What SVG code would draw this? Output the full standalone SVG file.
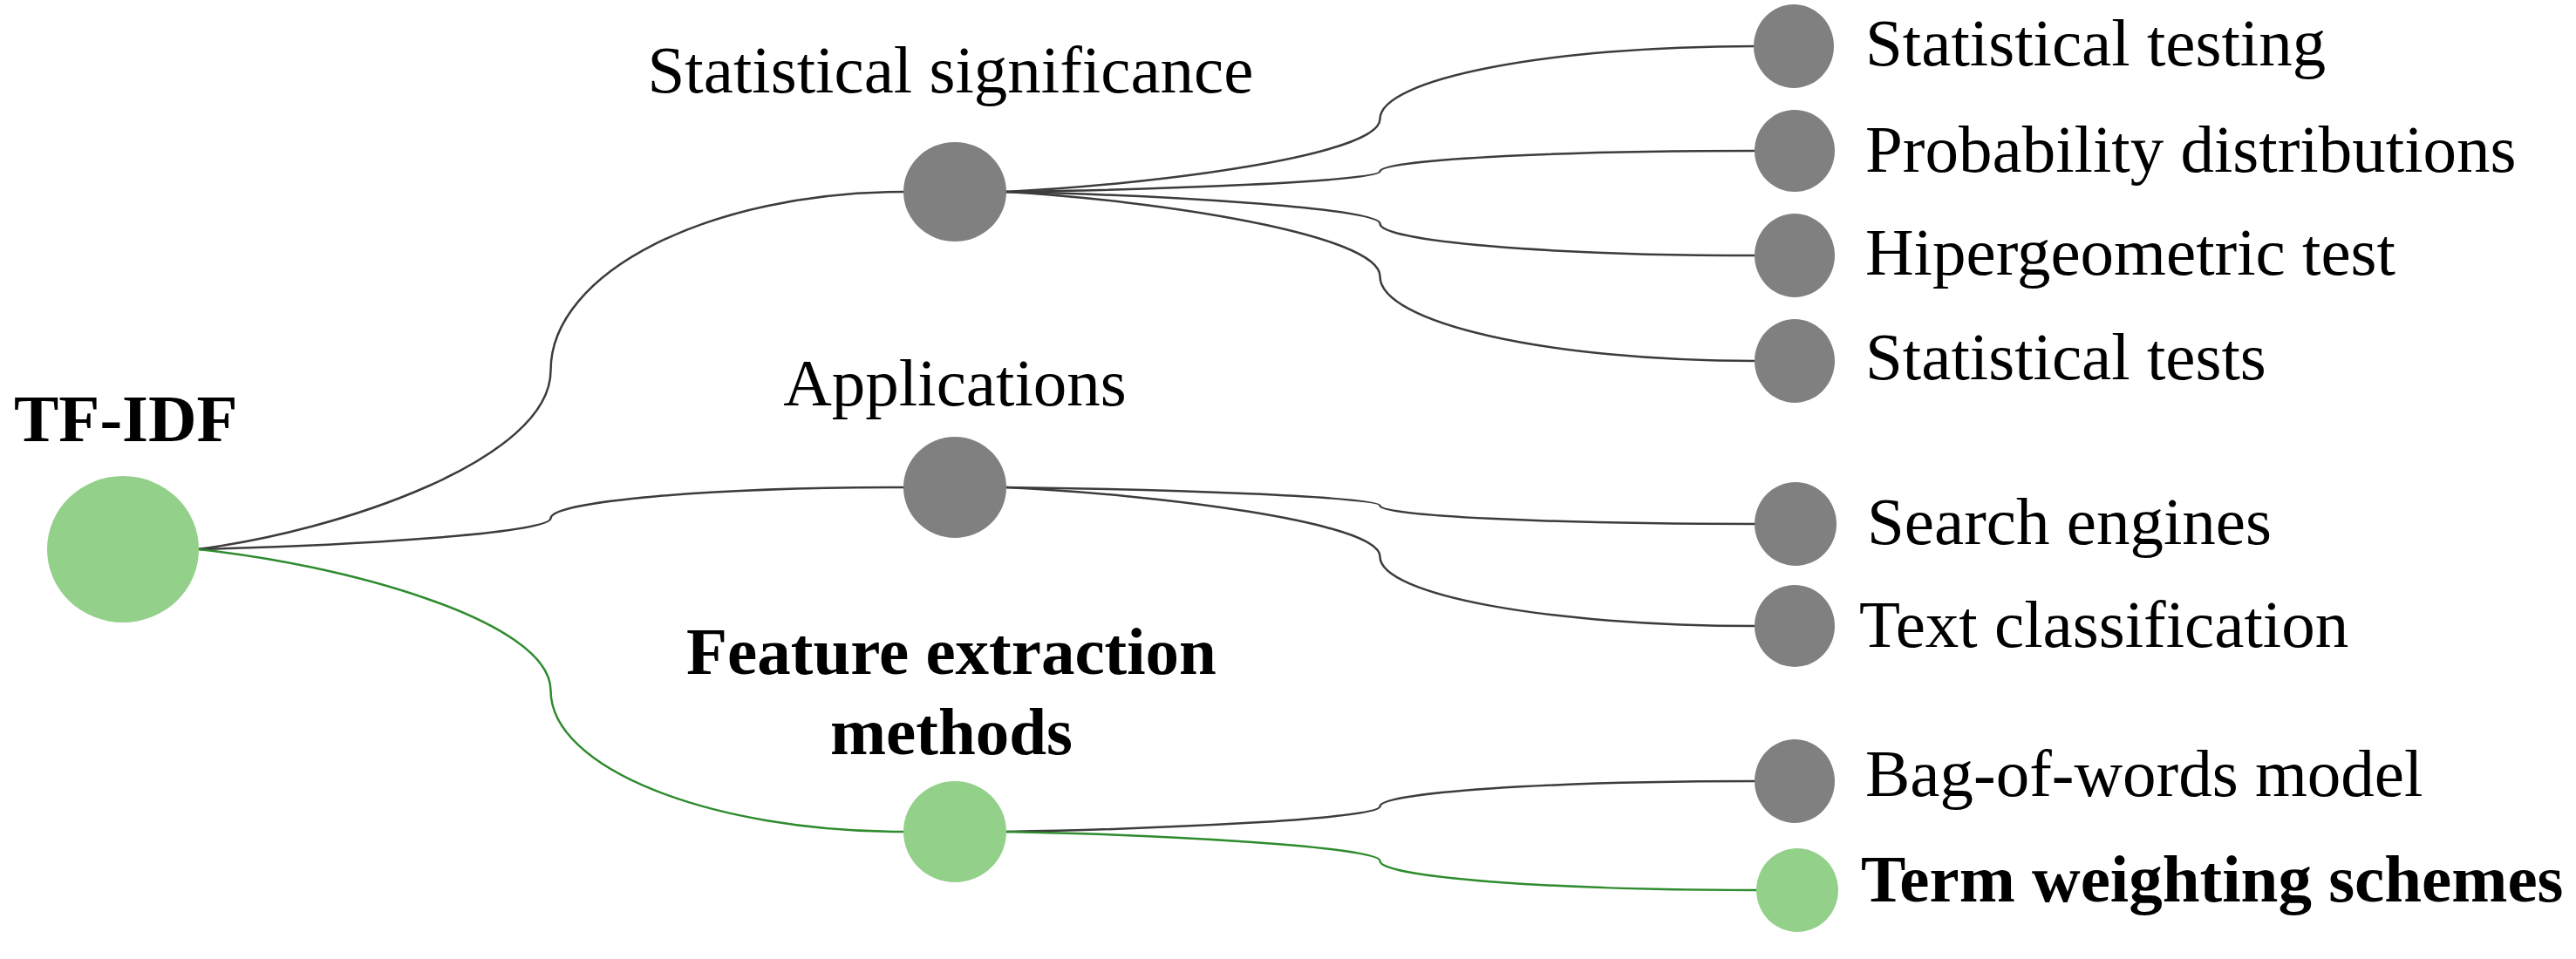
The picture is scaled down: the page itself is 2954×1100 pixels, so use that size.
<svg xmlns="http://www.w3.org/2000/svg" width="2954" height="1100" viewBox="0 0 2954 1100">
<style>
.bg{fill:#ffffff}
.g{fill:#808080}
.gr{fill:#93d08a}
.lg{fill:none;stroke:#3c3c3c;stroke-width:2.5}
.lgr{fill:none;stroke:#2e8b2e;stroke-width:2.5}
text{font-family:"Liberation Serif","Times New Roman",serif;font-size:77px;fill:#000}
.b{font-weight:bold}
.m{text-anchor:middle}
</style>
<rect class="bg" x="0" y="0" width="2954" height="1100"/>
<g id="connectors">
<path class="lg" d="M226,630 C388.2,609.5 631.5,527.5 631.5,425 C631.5,312.25 814,220 1037,220"/>
<path class="lg" d="M226,630 C388.2,626.45 631.5,612.25 631.5,594.5 C631.5,574.97 814,559 1037,559"/>
<path class="lgr" d="M226,630 C388.2,646.2 631.5,711 631.5,792 C631.5,881.1 814,954 1037,954"/>
<path class="lg" d="M1153,220 C1324.8,211.65 1582.5,178.25 1582.5,136.5 C1582.5,90.6 1775.8,53 2012,53"/>
<path class="lg" d="M1153,220 C1324.8,217.65 1582.5,208.25 1582.5,196.5 C1582.5,183.6 1775.8,173 2012,173"/>
<path class="lg" d="M1153,220 C1324.8,223.65 1582.5,238.25 1582.5,256.5 C1582.5,276.6 1775.8,293 2012,293"/>
<path class="lg" d="M1153,220 C1324.8,229.7 1582.5,268.5 1582.5,317 C1582.5,370.35 1775.8,414 2012,414"/>
<path class="lg" d="M1153,559 C1324.8,561.1 1582.5,569.5 1582.5,580 C1582.5,591.55 1775.8,601 2013,601"/>
<path class="lg" d="M1153,559 C1324.8,566.95 1582.5,598.75 1582.5,638.5 C1582.5,682.2 1775.8,718 2012,718"/>
<path class="lg" d="M1153,954 C1324.8,951.1 1582.5,939.5 1582.5,925 C1582.5,909.05 1775.8,896 2012,896"/>
<path class="lgr" d="M1153,954 C1324.8,957.35 1582.5,970.75 1582.5,987.5 C1582.5,1005.9 1775.8,1021 2014,1021"/>
</g>
<g id="node-tfidf"><ellipse class="gr" cx="141" cy="630" rx="87" ry="84"/><text class="b" x="16" y="506">TF-IDF</text></g>
<g id="node-statsig"><ellipse class="g" cx="1095" cy="220" rx="59" ry="57"/><text class="m" x="1090" y="106">Statistical significance</text></g>
<g id="node-applications"><ellipse class="g" cx="1095" cy="559" rx="59" ry="58"/><text class="m" x="1095" y="465">Applications</text></g>
<g id="node-feature"><ellipse class="gr" cx="1095" cy="954" rx="59" ry="58"/><text class="m b" x="1091" y="773">Feature extraction</text><text class="m b" x="1091" y="865">methods</text></g>
<g id="node-stattesting"><ellipse class="g" cx="2057" cy="53" rx="46" ry="48"/><text x="2139" y="75">Statistical testing</text></g>
<g id="node-probability"><ellipse class="g" cx="2058" cy="173" rx="46" ry="47"/><text x="2139" y="197">Probability distributions</text></g>
<g id="node-hipergeometric"><ellipse class="g" cx="2058" cy="293" rx="46" ry="48"/><text x="2139" y="315">Hipergeometric test</text></g>
<g id="node-stattests"><ellipse class="g" cx="2058" cy="414" rx="46" ry="48"/><text x="2139" y="435">Statistical tests</text></g>
<g id="node-search"><ellipse class="g" cx="2059" cy="601" rx="47" ry="48"/><text x="2141" y="624">Search engines</text></g>
<g id="node-textclass"><ellipse class="g" cx="2058" cy="718" rx="46" ry="47"/><text x="2132" y="742">Text classification</text></g>
<g id="node-bag"><ellipse class="g" cx="2058" cy="896" rx="46" ry="48"/><text x="2139" y="913">Bag-of-words model</text></g>
<g id="node-term"><ellipse class="gr" cx="2061" cy="1021" rx="47" ry="48"/><text class="b" x="2134" y="1034">Term weighting schemes</text></g>
</svg>
